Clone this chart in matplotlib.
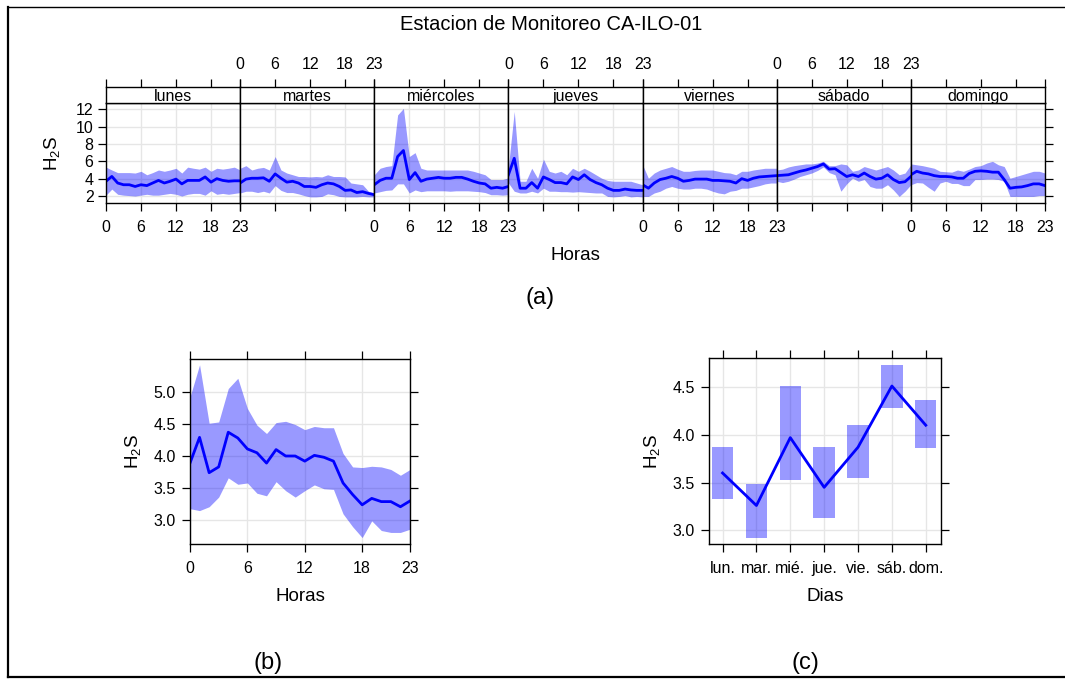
import matplotlib
matplotlib.use("Agg")
import matplotlib.pyplot as plt
from matplotlib.lines import Line2D
import numpy as np

plt.rcParams['font.family'] = ['Liberation Sans', 'DejaVu Sans']
plt.rcParams['mathtext.default'] = 'regular'

# ---------------- data ----------------
title = "Estacion de Monitoreo CA-ILO-01"
days = ["lunes", "martes", "miércoles", "jueves", "viernes", "sábado", "domingo"]
days_short = ["lun.", "mar.", "mié.", "jue.", "vie.", "sáb.", "dom."]
hours = list(range(24))
hour_ticks = [0, 6, 12, 18, 23]

mean_lunes = [3.7, 4.26, 3.5, 3.3, 3.3, 3.1, 3.3, 3.2, 3.5, 3.8, 3.5, 3.7, 3.95, 3.4, 3.8, 3.8, 3.8, 4.2, 3.6, 4.0, 3.8, 3.7, 3.75, 3.75]
up_lunes = [5.33, 5.0, 4.7, 4.7, 4.7, 4.65, 4.85, 4.45, 4.7, 5.0, 4.85, 5.0, 5.2, 4.65, 5.33, 5.2, 5.1, 5.33, 4.85, 5.2, 5.1, 5.2, 5.33, 5.0]
lo_lunes = [2.1, 2.8, 2.2, 2.1, 2.05, 2.0, 2.1, 2.2, 2.1, 2.1, 2.2, 2.3, 2.2, 2.0, 2.2, 2.3, 2.3, 2.1, 2.6, 2.2, 2.3, 2.2, 2.3, 2.4]

mean_martes = [3.5, 3.95, 4.05, 4.05, 4.1, 3.7, 4.55, 4.05, 3.6, 3.7, 3.5, 3.1, 3.1, 3.0, 3.3, 3.5, 3.4, 3.1, 2.65, 2.7, 2.4, 2.5, 2.3, 2.15]
up_martes = [5.2, 5.5, 5.0, 5.2, 5.3, 5.0, 6.55, 5.0, 4.65, 4.45, 4.25, 4.25, 4.2, 4.25, 4.2, 4.45, 4.25, 4.25, 4.2, 3.5, 3.4, 3.3, 2.55, 2.35]
lo_martes = [2.35, 2.55, 2.55, 2.4, 2.55, 2.35, 3.2, 2.65, 2.4, 2.4, 2.25, 2.05, 1.9, 1.9, 1.95, 2.25, 2.15, 1.95, 1.9, 1.9, 1.9, 1.95, 1.9, 1.9]

mean_miercoles = [3.3, 3.8, 4.05, 4.05, 6.55, 7.25, 3.9, 4.7, 3.7, 3.95, 4.05, 4.15, 4.05, 4.05, 4.15, 4.15, 3.95, 3.7, 3.5, 3.4, 2.9, 3.0, 2.9, 3.1]
up_miercoles = [4.45, 5.2, 5.4, 5.5, 11.35, 12.1, 6.55, 7.0, 5.2, 5.0, 5.0, 5.0, 5.0, 5.0, 5.0, 5.0, 5.0, 4.85, 4.65, 4.45, 3.9, 3.9, 3.9, 4.1]
lo_miercoles = [2.35, 2.5, 2.65, 2.7, 3.4, 3.4, 2.35, 2.7, 2.5, 2.6, 2.6, 2.6, 2.6, 2.55, 2.6, 2.6, 2.6, 2.55, 2.5, 2.4, 2.15, 2.15, 2.1, 2.15]

mean_jueves = [4.45, 6.35, 2.9, 2.9, 3.55, 2.9, 4.2, 3.9, 3.55, 3.55, 3.4, 4.2, 3.9, 4.45, 3.9, 3.55, 3.3, 2.9, 2.65, 2.65, 2.8, 2.7, 2.65, 2.65]
up_jueves = [5.4, 11.75, 3.7, 3.7, 5.2, 4.05, 6.25, 4.85, 4.65, 4.85, 4.45, 5.2, 4.85, 5.2, 4.85, 4.45, 4.05, 3.8, 3.7, 3.7, 3.7, 3.7, 3.5, 3.3]
lo_jueves = [3.5, 2.55, 2.35, 2.35, 2.55, 2.35, 2.9, 2.55, 2.55, 2.5, 2.5, 2.45, 2.5, 2.45, 2.4, 2.35, 2.35, 1.95, 1.9, 1.95, 2.05, 1.9, 1.95, 1.9]

mean_viernes = [3.3, 2.9, 3.5, 3.9, 4.05, 4.25, 4.05, 3.7, 3.8, 3.95, 3.95, 3.95, 3.8, 3.8, 3.75, 3.7, 3.5, 4.0, 3.8, 4.05, 4.2, 4.25, 4.3, 4.35]
up_viernes = [5.6, 4.05, 4.65, 5.0, 5.2, 5.4, 5.1, 4.85, 4.85, 4.95, 5.0, 5.0, 5.0, 4.85, 4.7, 4.65, 4.45, 4.85, 4.85, 5.0, 5.1, 5.2, 5.2, 5.2]
lo_viernes = [1.95, 1.95, 2.35, 2.55, 2.9, 3.1, 2.9, 2.8, 2.8, 2.9, 2.9, 2.8, 2.55, 2.35, 2.25, 2.55, 2.65, 2.9, 2.9, 3.05, 3.2, 3.4, 3.5, 3.5]

mean_sabado = [4.35, 4.4, 4.45, 4.65, 4.85, 5.0, 5.2, 5.4, 5.7, 5.1, 5.15, 4.7, 4.25, 4.45, 4.25, 4.65, 4.25, 3.95, 4.05, 4.45, 3.9, 3.55, 3.65, 4.25]
up_sabado = [5.0, 5.1, 5.35, 5.5, 5.6, 5.7, 5.7, 5.8, 6.0, 5.5, 5.5, 5.7, 5.6, 4.85, 5.0, 5.4, 5.2, 5.0, 5.2, 5.4, 5.0, 4.45, 4.65, 5.6]
lo_sabado = [3.7, 3.55, 3.7, 3.95, 4.25, 4.45, 4.65, 4.95, 5.35, 4.7, 4.45, 2.55, 3.4, 4.05, 3.7, 3.9, 3.1, 2.9, 2.9, 3.3, 2.7, 1.95, 2.55, 3.3]

mean_domingo = [4.45, 4.85, 4.65, 4.55, 4.35, 4.25, 4.25, 4.2, 4.05, 4.05, 4.6, 4.85, 4.9, 4.85, 4.75, 4.75, 3.9, 2.9, 3.0, 3.05, 3.2, 3.4, 3.4, 3.2]
up_domingo = [5.7, 5.6, 5.5, 5.35, 5.2, 4.85, 4.8, 4.75, 5.0, 4.85, 5.1, 5.4, 5.5, 5.8, 6.0, 5.6, 5.4, 4.05, 4.25, 4.45, 4.65, 4.85, 4.85, 4.65]
lo_domingo = [3.3, 3.55, 3.5, 3.0, 2.55, 3.5, 3.7, 3.45, 3.45, 3.2, 3.2, 3.9, 3.9, 3.95, 3.95, 3.9, 3.7, 1.95, 1.95, 1.95, 1.95, 1.95, 2.05, 2.05]

week_mean = [mean_lunes, mean_martes, mean_miercoles, mean_jueves, mean_viernes, mean_sabado, mean_domingo]
week_up = [up_lunes, up_martes, up_miercoles, up_jueves, up_viernes, up_sabado, up_domingo]
week_lo = [lo_lunes, lo_martes, lo_miercoles, lo_jueves, lo_viernes, lo_sabado, lo_domingo]

hour_mean = [3.89, 4.29, 3.74, 3.83, 4.37, 4.28, 4.11, 4.05, 3.89, 4.10, 4.0, 4.0, 3.92, 4.01, 3.98, 3.92, 3.58, 3.40, 3.24, 3.34, 3.29, 3.29, 3.21, 3.30]
hour_up = [4.92, 5.42, 4.51, 4.53, 5.05, 5.21, 4.74, 4.48, 4.35, 4.52, 4.54, 4.49, 4.41, 4.46, 4.44, 4.44, 4.04, 3.83, 3.82, 3.84, 3.83, 3.79, 3.70, 3.79]
hour_lo = [3.18, 3.15, 3.21, 3.36, 3.66, 3.56, 3.58, 3.42, 3.38, 3.60, 3.46, 3.36, 3.46, 3.55, 3.49, 3.48, 3.10, 2.90, 2.73, 2.99, 2.84, 2.81, 2.81, 2.86]

day_mean = [3.60, 3.26, 3.97, 3.45, 3.87, 4.51, 4.10]
day_up = [3.87, 3.49, 4.51, 3.87, 4.10, 4.73, 4.36]
day_lo = [3.33, 2.92, 3.53, 3.13, 3.55, 4.28, 3.86]

# ---------------- style ----------------
W, H = 1065, 679
LINE = '#0000FF'
BAND = '#0000FF'
BAND_A = 0.4
GRID = '#E6E6E6'
TICK_FS = 11.5
LAB_FS = 13.5
LW = 2.0
ylab = r'H$_2$S'

fig = plt.figure(figsize=(W / 100, H / 100), dpi=100)


def fx(px):
    return px / W


def fy(py):
    return 1 - py / H


def style_ax(ax, lw=1.0):
    for s in ax.spines.values():
        s.set_linewidth(lw)
        s.set_color('black')
    ax.tick_params(direction='out', length=6, width=0.9, labelsize=TICK_FS, colors='black', pad=4)


# ---------------- (a) weekday-hour panels ----------------
left, right = 106, 1045
pw = (right - left) / 7
p_top, p_bot = 103.3, 203.3
s_top = 87.0
for i, d in enumerate(days):
    x0 = left + i * pw
    ax = fig.add_axes([fx(x0), fy(p_bot), fx(pw), (p_bot - p_top) / H])
    sax = fig.add_axes([fx(x0), fy(p_top), fx(pw), (p_top - s_top) / H])
    ax.set_xlim(0, 23)
    ax.set_ylim(1.16, 12.69)
    for t in hour_ticks:
        ax.axvline(t, color=GRID, lw=1, zorder=0)
    for t in range(2, 13, 2):
        ax.axhline(t, color=GRID, lw=1, zorder=0)
    ax.fill_between(hours, week_lo[i], week_up[i], color=BAND, alpha=BAND_A, lw=0, zorder=1)
    ax.plot(hours, week_mean[i], color=LINE, lw=LW, zorder=2)
    style_ax(ax)
    ax.set_xticks(hour_ticks)
    ax.tick_params(axis='x', bottom=True, top=False, labelbottom=(i % 2 == 0), pad=6)
    if i == 0:
        ax.set_yticks(range(2, 13, 2))
        ax.tick_params(axis='y', left=True, right=False, labelleft=True, pad=3)
        ax.set_ylabel(ylab, fontsize=LAB_FS, labelpad=10)
    elif i == 6:
        ax.set_yticks(range(2, 13, 2))
        ax.tick_params(axis='y', left=False, right=True, labelleft=False, labelright=False)
    else:
        ax.set_yticks([])
    # strip
    sax.set_xlim(0, 23)
    sax.set_ylim(0, 1)
    style_ax(sax)
    sax.set_yticks([])
    sax.set_xticks(hour_ticks)
    sax.tick_params(axis='x', bottom=False, top=True, labelbottom=False, labeltop=(i % 2 == 1), pad=5)
    sax.text(11.5, 0.42, d, ha='center', va='center', fontsize=TICK_FS)

fig.text(fx(551), fy(25), title, ha='center', va='center', fontsize=14.5)
fig.text(fx(575), fy(255), 'Horas', ha='center', va='center', fontsize=LAB_FS)
fig.text(fx(540), fy(298), '(a)', ha='center', va='center', fontsize=17)

# ---------------- (b) hour ----------------
axb = fig.add_axes([fx(190), fy(544), fx(220), 185 / H])
axb.set_xlim(0, 23)
axb.set_ylim(2.63, 5.51)
for t in hour_ticks:
    axb.axvline(t, color=GRID, lw=1, zorder=0)
for t in [3.0, 3.5, 4.0, 4.5, 5.0]:
    axb.axhline(t, color=GRID, lw=1, zorder=0)
axb.fill_between(hours, hour_lo, hour_up, color=BAND, alpha=BAND_A, lw=0, zorder=1)
axb.plot(hours, hour_mean, color=LINE, lw=LW, zorder=2)
style_ax(axb)
axb.set_xticks(hour_ticks)
axb.set_yticks([3.0, 3.5, 4.0, 4.5, 5.0])
axb.set_yticklabels(['%.1f' % v for v in [3.0, 3.5, 4.0, 4.5, 5.0]])
axb.tick_params(top=True, right=True, labeltop=False, labelright=False)
axb.tick_params(axis='x', pad=6)
axb.set_xlabel('Horas', fontsize=LAB_FS, labelpad=9)
axb.set_ylabel(ylab, fontsize=LAB_FS, labelpad=8)
fig.text(fx(268), fy(663), '(b)', ha='center', va='center', fontsize=17)

# ---------------- (c) day ----------------
axc = fig.add_axes([fx(709), fy(544.3), fx(232), 186 / H])
xd = np.arange(len(days_short))
axc.set_xlim(-0.4, 6.45)
axc.set_ylim(2.854, 4.80)
for t in xd:
    axc.axvline(t, color=GRID, lw=1, zorder=0)
for t in [3.0, 3.5, 4.0, 4.5]:
    axc.axhline(t, color=GRID, lw=1, zorder=0)
axc.bar(xd, np.array(day_up) - np.array(day_lo), bottom=day_lo, width=0.63,
        color=BAND, alpha=BAND_A, lw=0, zorder=1)
axc.plot(xd, day_mean, color=LINE, lw=LW, zorder=2)
style_ax(axc)
axc.set_xticks(xd)
axc.set_xticklabels(days_short)
axc.set_yticks([3.0, 3.5, 4.0, 4.5])
axc.set_yticklabels(['%.1f' % v for v in [3.0, 3.5, 4.0, 4.5]])
axc.tick_params(top=True, right=True, labeltop=False, labelright=False)
axc.tick_params(axis='x', pad=6)
axc.set_xlabel('Dias', fontsize=LAB_FS, labelpad=9)
axc.set_ylabel(ylab, fontsize=LAB_FS, labelpad=8)
fig.text(fx(805), fy(663), '(c)', ha='center', va='center', fontsize=17)

# ---------------- outer frame ----------------
fig.add_artist(Line2D([fx(8), fx(8)], [fy(7), fy(677)], transform=fig.transFigure, color='black', lw=1.6))
fig.add_artist(Line2D([fx(8), 1.0], [fy(7), fy(7)], transform=fig.transFigure, color='black', lw=1.0))
fig.add_artist(Line2D([fx(8), 1.0], [fy(677), fy(677)], transform=fig.transFigure, color='black', lw=1.6))

fig.savefig('out.png', dpi=100)
